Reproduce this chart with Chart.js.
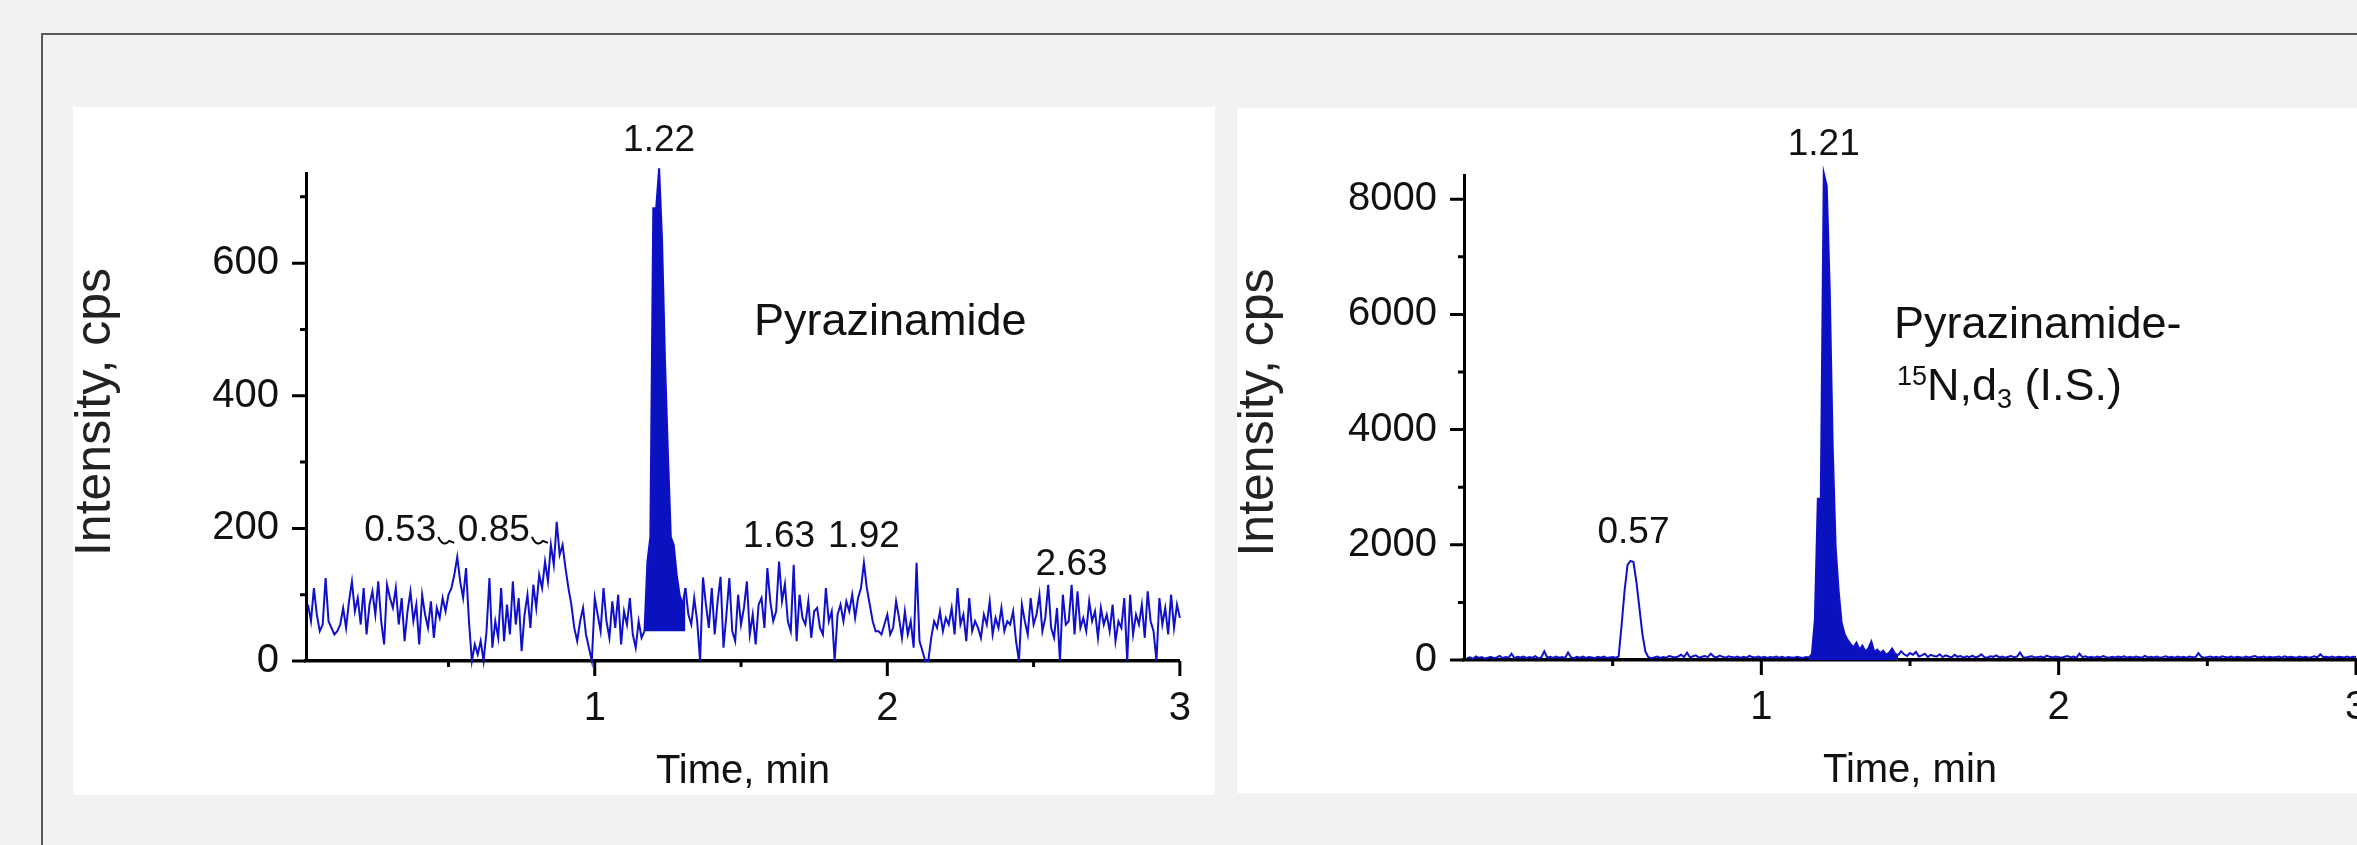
<!DOCTYPE html>
<html>
<head>
<meta charset="utf-8">
<script src="https://cdn.jsdelivr.net/npm/chart.js@4.4.1/dist/chart.umd.min.js"></script>
<style>
html, body { margin:0; padding:0; width:2357px; height:845px; overflow:hidden; background:#f2f2f2; }
#frame { position:absolute; left:41px; top:33px; width:2400px; height:900px; border-top:2px solid #5a5a5a; border-left:2px solid #5a5a5a; }
.panel { position:absolute; background:#fff; }
.panel canvas { display:block; }
#p1 { left:73px; top:107px; width:1142px; height:688px; }
#p2 { left:1237px; top:108px; width:1160px; height:685px; }
</style>
</head>
<body>
<div id="frame"></div>
<div class="panel" id="p1"><canvas id="c1" width="1142" height="688"></canvas></div>
<div class="panel" id="p2"><canvas id="c2" width="1160" height="685"></canvas></div>
<script>
'use strict';
const FONT = '"Liberation Sans", Arial, sans-serif';

// both traces sampled every 0.01 min
const stepMin = 0.01;
const leftStart = 0.02;
const rightStart = 0.01;

// Pyrazinamide, intensity (cps) from 0.02 to 3.00 min
const leftValues = [
  85, 60, 110, 70, 45, 55, 125, 60, 50, 40,
  45, 55, 80, 50, 90, 120, 75, 95, 55, 110,
  40, 85, 105, 70, 120, 60, 25, 115, 95, 80,
  110, 55, 95, 30, 75, 105, 60, 85, 25, 100,
  70, 50, 90, 35, 80, 65, 95, 75, 100, 110,
  130, 157, 120, 95, 140, 60, 0, 25, 10, 30,
  0, 45, 125, 20, 60, 35, 110, 30, 85, 40,
  120, 55, 95, 15, 70, 100, 50, 115, 80, 130,
  110, 150, 120, 175, 145, 210, 160, 175, 140, 110,
  85, 50, 30, 60, 80, 40, 20, 0, 95, 70,
  45, 110, 60, 35, 90, 50, 100, 25, 75, 55,
  95, 40, 20, 60, 35, 45, 150, 187, 683, 683,
  743, 635, 454, 314, 187, 175, 130, 100, 85, 110,
  70, 55, 95, 60, 0, 126, 85, 50, 110, 40,
  90, 127, 20, 70, 125, 45, 30, 100, 55, 80,
  120, 40, 70, 25, 85, 95, 50, 140, 90, 60,
  75, 150, 90, 116, 60, 45, 145, 30, 100, 65,
  55, 90, 35, 75, 80, 50, 40, 110, 60, 75,
  0, 70, 85, 60, 90, 75, 100, 65, 95, 110,
  148, 110, 85, 60, 45, 45, 40, 55, 70, 40,
  50, 90, 65, 35, 75, 40, 60, 20, 148, 30,
  15, 0, 0, 35, 60, 50, 75, 45, 65, 55,
  80, 40, 110, 55, 70, 30, 95, 45, 60, 50,
  35, 70, 55, 90, 40, 65, 50, 80, 45, 60,
  55, 75, 30, 0, 85, 60, 40, 95, 55, 70,
  100, 45, 65, 115, 50, 35, 80, 0, 100, 55,
  60, 115, 40, 105, 50, 65, 45, 90, 60, 75,
  35, 80, 55, 70, 45, 85, 30, 60, 50, 95,
  0, 100, 40, 70, 55, 85, 35, 105, 60, 45,
  0, 95, 55, 80, 40, 100, 50, 85, 65
];

// Pyrazinamide-15N,d3 (I.S.), intensity (cps) from 0.01 to 3.00 min
const rightValues = [
  30, 45, 20, 60, 35, 50, 25, 40, 55, 30,
  45, 70, 35, 50, 40, 110, 30, 55, 45, 60,
  35, 50, 40, 65, 30, 45, 150, 40, 55, 35,
  60, 40, 50, 35, 130, 45, 30, 55, 40, 60,
  35, 50, 45, 30, 55, 40, 60, 35, 45, 50,
  40, 60, 600, 1200, 1650, 1720, 1700, 1350, 900, 450,
  150, 50, 30, 45, 60, 35, 50, 40, 70, 55,
  45, 60, 90, 50, 130, 45, 65, 80, 40, 55,
  70, 50, 110, 60, 45, 75, 55, 40, 65, 50,
  45, 60, 35, 55, 40, 70, 50, 45, 60, 40,
  55, 35, 50, 45, 60, 40, 55, 35, 50, 45,
  40, 55, 45, 35, 50, 45, 100, 700, 2800, 2800,
  8450, 8230, 6450, 3700, 1950, 1200, 650, 450, 350, 280,
  220, 300, 180, 250, 150, 200, 320, 140, 180, 120,
  160, 90, 130, 200, 110, 80, 150, 100, 70, 120,
  90, 140, 60, 80, 110, 50, 90, 70, 60, 100,
  50, 80, 60, 45, 90, 55, 70, 40, 65, 50,
  75, 45, 60, 100, 50, 40, 65, 55, 80, 45,
  60, 40, 55, 70, 45, 60, 130, 50, 40, 55,
  65, 45, 50, 60, 40, 75, 55, 45, 60, 50,
  40, 55, 70, 45, 60, 40, 110, 50, 65, 45,
  55, 40, 60, 45, 70, 50, 40, 55, 45, 60,
  50, 65, 40, 55, 45, 60, 50, 40, 70, 45,
  55, 45, 60, 40, 50, 65, 45, 55, 40, 60,
  45, 55, 40, 60, 50, 45, 120, 55, 40, 50,
  60, 45, 55, 40, 65, 50, 45, 60, 40, 55,
  50, 40, 60, 45, 55, 70, 45, 50, 60, 40,
  55, 45, 50, 60, 40, 65, 45, 55, 50, 40,
  60, 45, 55, 40, 50, 65, 45, 100, 50, 55,
  45, 60, 40, 55, 50, 45, 60, 40, 55, 50
];

// peak labels
const leftPeakTimes = [0.53, 0.85, 1.22, 1.63, 1.92, 2.63];
const leftPeakLabels = ['0.53', '0.85', '1.22', '1.63', '1.92', '2.63'];
const leftLabelLevels = [154, 154, 743, 145, 145, 103];
const leftHooks = [true, true, false, false, false, false];
const rightPeakTimes = [0.57, 1.21];
const rightPeakLabels = ['0.57', '1.21'];
const rightLabelLevels = [1720, 8450];

// axes
const timeTicks = [1, 2, 3];
const timeMinor = [0.5, 1.5, 2.5];
const leftYTicks = [0, 200, 400, 600];
const leftYMinor = [100, 300, 500, 700];
const rightYTicks = [0, 2000, 4000, 6000, 8000];
const rightYMinor = [1000, 3000, 5000, 7000];

// filled part of the main peaks (min)
const leftPeakRange = [1.17, 1.31];
const rightPeakRange = [1.16, 1.46];

const LINE = '#1010cc';
const FILL = '#0a12c0';

function toPoints(values, start) {
  return values.map((v, i) => ({ x: +(start + i * stepMin).toFixed(2), y: v }));
}

function annotPlugin(cfg) {
  return {
    id: 'annot',
    afterDraw(chart) {
      const ctx = chart.ctx, a = chart.chartArea;
      const sx = chart.scales.x, sy = chart.scales.y;
      ctx.save();
      // tick marks, long for labelled ticks
      ctx.strokeStyle = '#000';
      ctx.lineWidth = 3;
      ctx.beginPath();
      cfg.yTicks.forEach(v => { const p = sy.getPixelForValue(v); ctx.moveTo(a.left, p); ctx.lineTo(a.left - 14, p); });
      cfg.yMinor.forEach(v => { const p = sy.getPixelForValue(v); ctx.moveTo(a.left, p); ctx.lineTo(a.left - 6, p); });
      timeTicks.forEach(v => { const p = sx.getPixelForValue(v); ctx.moveTo(p, a.bottom); ctx.lineTo(p, a.bottom + 15); });
      timeMinor.forEach(v => { const p = sx.getPixelForValue(v); ctx.moveTo(p, a.bottom); ctx.lineTo(p, a.bottom + 6); });
      ctx.stroke();

      ctx.fillStyle = '#111';
      // axis titles
      ctx.font = '40px ' + FONT;
      ctx.textAlign = 'center';
      ctx.textBaseline = 'alphabetic';
      ctx.fillText('Time, min', (a.left + a.right) / 2, a.bottom + 122);
      ctx.save();
      ctx.translate(cfg.yTitleX, (a.top + a.bottom) / 2 - 5);
      ctx.rotate(-Math.PI / 2);
      ctx.font = '50px ' + FONT;
      ctx.fillStyle = '#222';
      ctx.textBaseline = 'middle';
      ctx.fillText('Intensity, cps', 0, 0);
      ctx.restore();

      // retention time labels
      ctx.font = '37px ' + FONT;
      ctx.textBaseline = 'middle';
      cfg.times.forEach((t, i) => {
        const px = sx.getPixelForValue(t);
        const py = sy.getPixelForValue(cfg.levels[i]) - 28;
        if (cfg.hooks && cfg.hooks[i]) {
          ctx.textAlign = 'right';
          ctx.fillText(cfg.labels[i], px - 21, py);
          ctx.lineWidth = 2;
          ctx.beginPath();
          ctx.moveTo(px - 19, py + 6);
          ctx.quadraticCurveTo(px - 14, py + 17, px - 8, py + 10);
          ctx.lineTo(px - 3, py + 12);
          ctx.stroke();
        } else {
          ctx.textAlign = 'center';
          ctx.fillText(cfg.labels[i], px, py);
        }
      });

      // compound name
      ctx.textAlign = 'left';
      ctx.textBaseline = 'alphabetic';
      cfg.name.forEach(line => {
        let x = a.left + line.dx;
        line.parts.forEach(p => {
          ctx.font = p.size + 'px ' + FONT;
          ctx.fillText(p.t, x, a.top + line.dy + (p.shift || 0));
          x += ctx.measureText(p.t).width;
        });
      });
      ctx.restore();
    }
  };
}

function makeChart(id, values, start, range, fillTo, ymax, yTicks, axisW, axisH, padTop, padRight, cfg) {
  const inPeak = c => c.p0.parsed.x >= range[0] && c.p1.parsed.x <= range[1];
  new Chart(document.getElementById(id), {
    type: 'line',
    data: {
      datasets: [{
        data: toPoints(values, start),
        borderColor: LINE,
        borderWidth: 2,
        pointRadius: 0,
        clip: false,
        fill: fillTo,
        backgroundColor: 'rgba(0,0,0,0)',
        segment: { backgroundColor: c => inPeak(c) ? FILL : 'rgba(0,0,0,0)' }
      }]
    },
    options: {
      responsive: false,
      animation: false,
      devicePixelRatio: 1,
      layout: { padding: { top: padTop, right: padRight, left: 0, bottom: 0 } },
      plugins: { legend: { display: false }, tooltip: { enabled: false } },
      scales: {
        x: {
          type: 'linear',
          min: start === leftStart ? 0.013 : 0,
          max: 3,
          afterFit: s => { s.height = axisH; },
          afterBuildTicks: s => { s.ticks = timeTicks.map(v => ({ value: v })); },
          grid: { display: false, drawTicks: false },
          border: { display: true, color: '#000', width: 3.5 },
          ticks: { font: { family: FONT, size: 40 }, color: '#111', padding: 24, maxRotation: 0, callback: v => String(v) }
        },
        y: {
          min: 0,
          max: ymax,
          afterFit: s => { s.width = axisW; },
          afterBuildTicks: s => { s.ticks = yTicks.map(v => ({ value: v })); },
          grid: { display: false, drawTicks: false },
          border: { display: true, color: '#000', width: 3 },
          ticks: { font: { family: FONT, size: 40 }, color: '#111', padding: 27, callback: v => String(v) }
        }
      }
    },
    plugins: [annotPlugin(cfg)]
  });
}

makeChart('c1', leftValues, leftStart, leftPeakRange, { value: 45 }, 736, leftYTicks, 233, 134, 66, 17, {
  yTicks: leftYTicks, yMinor: leftYMinor, yTitleX: 23,
  times: leftPeakTimes, labels: leftPeakLabels, levels: leftLabelLevels, hooks: leftHooks,
  name: [{ dx: 448, dy: 162, parts: [{ t: 'Pyrazinamide', size: 45 }] }]
});

makeChart('c2', rightValues, rightStart, rightPeakRange, 'origin', 8420, rightYTicks, 227, 133, 67, 41, {
  yTicks: rightYTicks, yMinor: rightYMinor, yTitleX: 22,
  times: rightPeakTimes, labels: rightPeakLabels, levels: rightLabelLevels,
  name: [
    { dx: 430, dy: 163, parts: [{ t: 'Pyrazinamide-', size: 45 }] },
    { dx: 433, dy: 225, parts: [{ t: '15', size: 27, shift: -15 }, { t: 'N,d', size: 45 }, { t: '3', size: 27, shift: 8 }, { t: ' (I.S.)', size: 45 }] }
  ]
});
</script>
</body>
</html>
